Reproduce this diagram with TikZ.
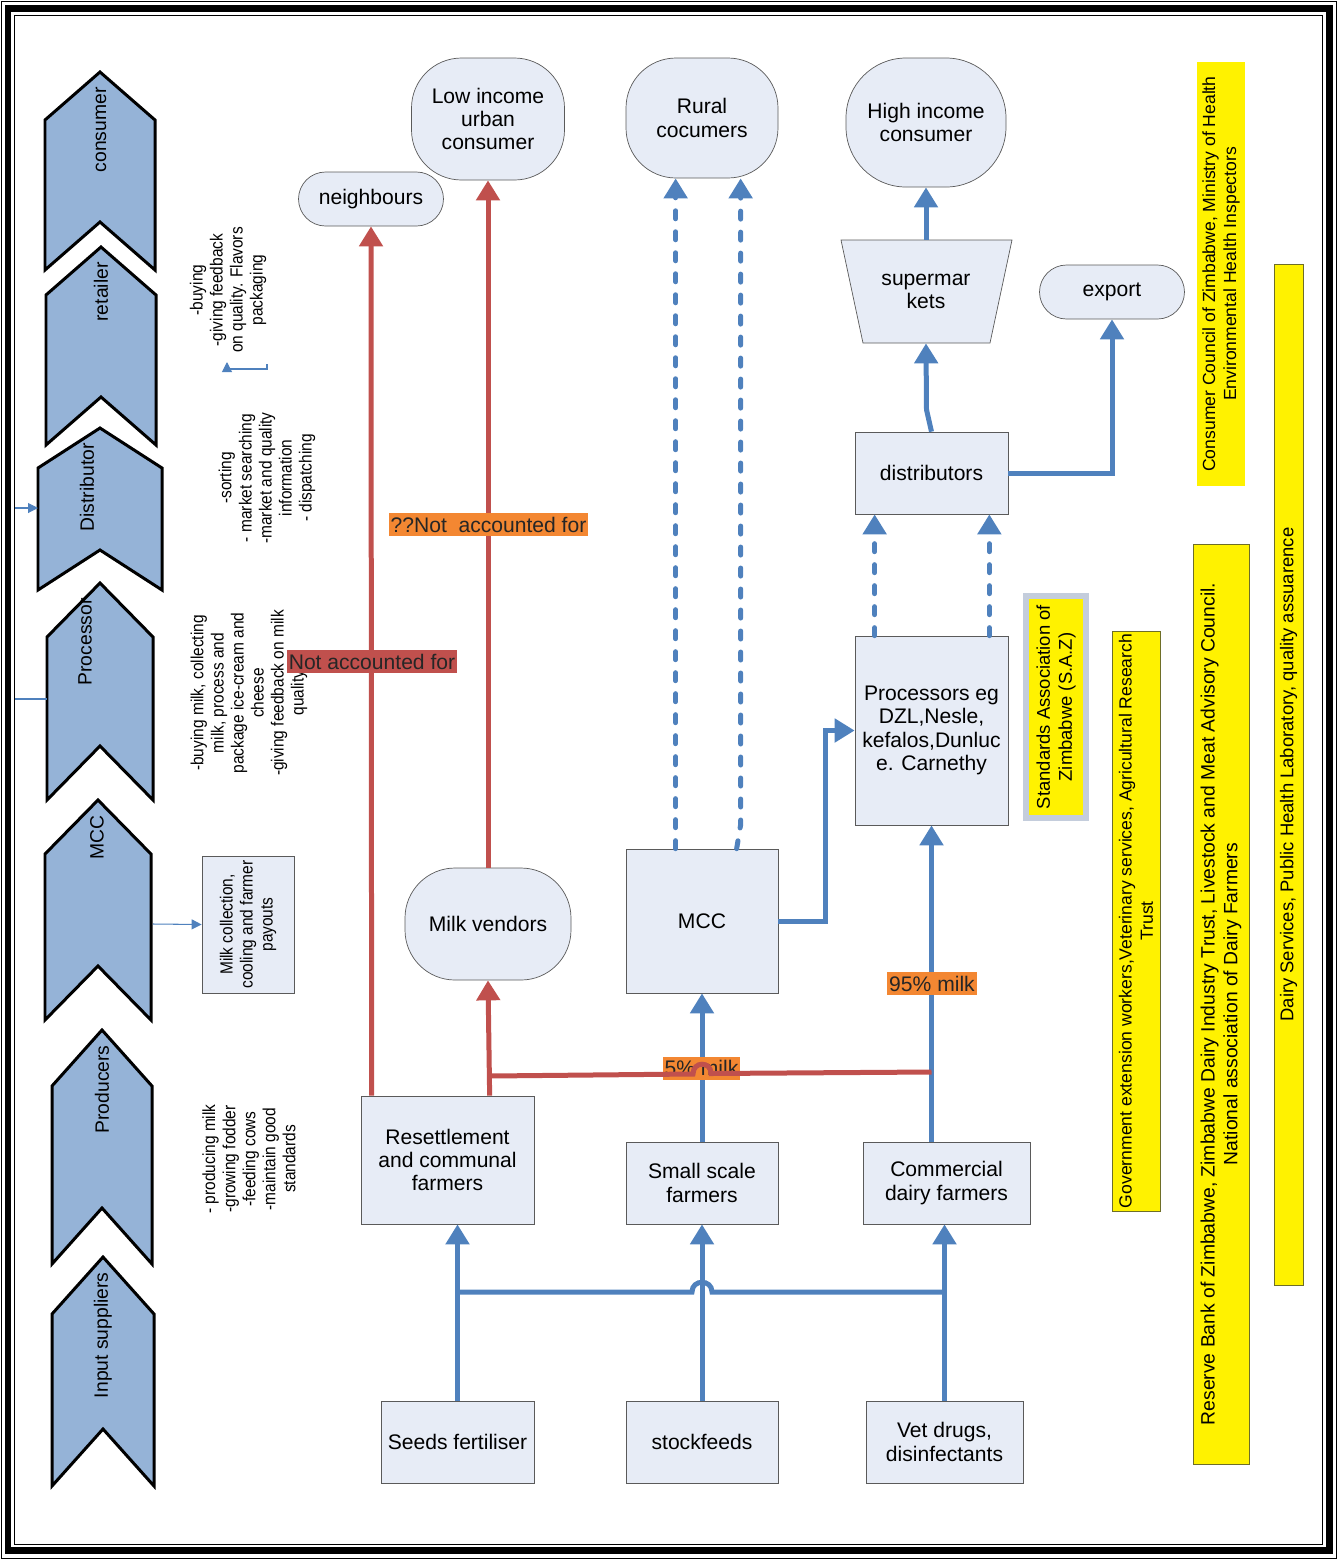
\documentclass[tikz,border=0pt]{standalone}
\usepackage{fontspec}
\setmainfont{Liberation Sans}
\newfontfamily\narrowfont[FakeStretch=0.88]{Liberation Sans}
\usetikzlibrary{shapes, arrows.meta, positioning, calc}

\definecolor{chevblue}{RGB}{149,179,215}
\definecolor{boxfill}{RGB}{231,236,246}
\definecolor{boxline}{RGB}{90,90,90}
\definecolor{flowblue}{RGB}{79,129,189}
\definecolor{flowred}{RGB}{192,80,77}
\definecolor{tagorange}{RGB}{243,135,50}
\definecolor{sazgray}{RGB}{196,205,220}
\definecolor{agencyline}{RGB}{110,110,40}

\tikzset{
  wh/.style 2 args={minimum width=#1*0.02cm, minimum height=#2*0.02cm},
  actor/.style={draw=boxline, fill=boxfill, align=center, inner sep=2pt, font=\fontsize{12}{13.2}\selectfont},
  market/.style={actor, rounded corners=1cm},
  pill/.style={actor, rounded rectangle},
  chev/.style={draw=black, line width=0.06cm, fill=chevblue, line join=miter},
  stage/.style={rotate=90, anchor=east, inner sep=0pt, font=\fontsize{11}{13}\selectfont},
  note/.style={rotate=90, align=center, inner sep=0pt, font=\narrowfont\fontsize{10}{11.4}\selectfont},
  agency/.style={rotate=90, fill=yellow, align=center, inner sep=1pt, font=\fontsize{10}{12}\selectfont},
  pipe/.style={draw=flowblue, line width=0.1cm},
  flow/.style={pipe, -{Triangle[width=0.46cm,length=0.4cm]}},
  feed/.style={flow, dash pattern=on 0.16cm off 0.26cm, line cap=round},
  leak/.style={flow, draw=flowred},
  thinflow/.style={draw=flowblue, line width=0.6pt, -{Triangle[width=0.2cm,length=0.2cm]}},
  tag/.style={fill=tagorange, inner sep=1pt, minimum height=0.46cm, text=black!85, font=\fontsize{12}{13.2}\selectfont},
}

\begin{document}
\begin{tikzpicture}[x=0.02cm, y=-0.02cm]
  \useasboundingbox (0,0) rectangle (1338,1560);
  \draw[line width=0.14cm] (8,8.5) rectangle (1329,1550.5);
  \draw[line width=0.5pt] (1.5,1.5) rectangle (1336.5,1558.5);
  \draw[line width=0.5pt] (14,15) rectangle (1322,1544);

  \foreach \cx/\ct/\cb/\hw/\th/\lx/\lab in {100/72/270/55/48/101/consumer, 101/247/445/55/48/101/retailer,
      100/428/590/62/40/87/Distributor, 100/583/800/53/54/85/Processor, 98/800/1020/53/54/97/MCC,
      102/1030/1264/50/56/102/Producers, 103/1257/1486/51/57/103/Input suppliers}{
    \draw[chev] (\cx-\hw,\ct+\th) -- (\cx,\ct) -- (\cx+\hw,\ct+\th) -- (\cx+\hw,\cb) -- (\cx,\cb-\th) -- (\cx-\hw,\cb) -- cycle;
    \node[stage] (stage-\ct) at (\lx,\ct+15) {\lab};
  }

  \node[note] (retnote) at (228,290) {-buying\\-giving feedback\\on quality. Flavors\\packaging};
  \node[note] (distnote) at (267,478) {-sorting\\- market searching\\-market and quality\\information\\- dispatching};
  \node[note] (procnote) at (249,693) {-buying milk, collecting\\milk, process and\\package ice-cream and\\cheese\\-giving feedback on milk\\quality};
  \node[note] (prodnote) at (249,1159) {- producing milk\\-growing fodder\\-feeding cows\\-maintain good\\standards};
  \node[actor, rotate=90, wh={137}{92}, font=\narrowfont\fontsize{10}{11.4}\selectfont] (mccbox) at (248,924.5) {Milk collection,\\cooling and farmer\\payouts};

  \coordinate (frameA) at (15,508);
  \coordinate (distL) at (38,508);
  \coordinate (frameB) at (15,699);
  \coordinate (procL) at (47,699);
  \coordinate (mccR) at (153,924);
  \coordinate (elbowA) at (267,364);
  \coordinate (elbowB) at (227,362);
  \draw[thinflow] (frameA) -- (distL);
  \draw[draw=flowblue, line width=0.6pt] (frameB) -- (procL);
  \draw[thinflow] (mccR) -- (mccbox.north);
  \draw[thinflow] (elbowA) -- ++(0,5) -| (elbowB);

  \node[market, wh={153}{122}] (lowinc) at (488,119) {Low income\\urban\\consumer};
  \node[pill, wh={152}{54}] (neigh) at (371,199) {neighbours};
  \node[market, wh={152}{120}] (rural) at (702,118) {Rural\\cocumers};
  \node[market, wh={160}{129}, rounded corners=1.2cm] (highinc) at (926,122.5) {High income\\consumer};
  \draw[draw=boxline, fill=boxfill] (841,240) -- (1012,240) -- (990,343) -- (863,343) -- cycle;
  \node[align=center, inner sep=0pt, wh={127}{103}, font=\fontsize{12}{13.2}\selectfont] (sup) at (926,291.5) {supermar\\kets};
  \node[pill, wh={152}{54}] (export) at (1112,292) {export};
  \node[actor, wh={153}{82}] (dist) at (931.5,473) {distributors};
  \node[actor, wh={153}{189}] (proc) at (931.5,730.5) {Processors eg\\DZL,Nesle,\\kefalos,Dunluc\\e. Carnethy};
  \node[market, wh={166}{112}] (vendors) at (488,924) {Milk vendors};
  \node[actor, wh={152}{144}] (mcc) at (702,921) {MCC};
  \node[actor, wh={173}{128}] (reset) at (447.5,1160) {Resettlement\\and communal\\farmers};
  \node[actor, wh={152}{82}] (small) at (702,1183) {Small scale\\farmers};
  \node[actor, wh={167}{82}] (comm) at (946.5,1183) {Commercial\\dairy farmers};
  \node[actor, wh={153}{82}] (seeds) at (457.5,1442) {Seeds fertiliser};
  \node[actor, wh={152}{82}] (feeds) at (702,1442) {stockfeeds};
  \node[actor, wh={157}{82}] (vet) at (944.5,1442) {Vet drugs,\\disinfectants};

  \node[agency, wh={424}{48}] (ccz) at (1221,274) {Consumer Council of Zimbabwe, Ministry of Health\\Environmental Health Inspectors};
  \node[agency, draw=sazgray, line width=0.12cm, wh={222}{60}, font=\fontsize{10.5}{12.5}\selectfont] (saz) at (1056,707) {Standards Association of\\Zimbabwe (S.A.Z)};
  \node[agency, draw=agencyline, wh={580}{48}] (govt) at (1136,921) {Government extension workers,Veterinary services, Agricultural Research\\Trust};
  \node[agency, draw=agencyline, wh={920}{56}, font=\fontsize{11}{13}\selectfont] (rbz) at (1221,1004) {Reserve Bank of Zimbabwe, Zimbabwe Dairy Industry Trust, Livestock and Meat Advisory Council.\\National association of Dairy Farmers};
  \node[agency, draw=agencyline, wh={1021}{29}, font=\fontsize{10.5}{12}\selectfont] (dairy) at (1288.5,774.5) {Dairy Services, Public Health Laboratory, quality assuarence};

  \coordinate (barL) at (457.5,1292);
  \coordinate (barR) at (944.5,1292);
  \draw[flow] (seeds.north) -- (seeds.north |- reset.south);
  \draw[flow] (feeds.north) -- (small.south);
  \draw[flow] (vet.north) -- (vet.north |- comm.south);
  \draw[pipe] (barL) -- (692,1292) .. controls (692,1279) and (712,1279) .. (712,1292) -- (barR);
  \draw[flow] (small.north) -- (mcc.south);
  \draw[flow] (proc.south |- comm.north) -- (proc.south);
  \draw[flow] (mcc.east) -- ++(47,0) |- (proc.west);
  \draw[feed] ($(proc.north west)+(20,0)$) -- ($(dist.south west)+(20,0)$);
  \draw[feed] ($(proc.north east)+(-19,0)$) -- ($(dist.south east)+(-19,0)$);
  \draw[flow] (dist.north) -- ++(-5,-22) -- (sup.north |- sup.south);
  \draw[flow] (sup.north) -- (highinc.south);
  \draw[flow] (dist.east) -| (export.south);
  \draw[feed] ($(mcc.north west)+(50,0)$) -- ($(rural.south west)+(50,0)$);
  \draw[feed] ($(mcc.north west)+(111,0)$) -- ++(4,-24) -- ($(rural.south west)+(115,0)$);

  \draw[leak] ($(reset.north west)+(11,0)$) -- (neigh.south);
  \draw[leak] ($(reset.north west)+(129,0)$) -- (vendors.south);
  \draw[leak] (vendors.north) -- (lowinc.south);

  \node[tag] (tagvend) at (488.5,524.5) {??Not\ \ accounted for};
  \node[tag, fill=flowred] (tagneigh) at (372,661.5) {Not accounted for};
  \node[tag] (tagfive) at (701.5,1068) {5\% milk};
  \node[tag] (tagninety) at (932,983.5) {95\% milk};

  \coordinate (mixR) at (931.5,1072);
  \coordinate (mixL) at (490,1076);
  \draw[draw=flowred, line width=0.1cm] (mixR) -- (711,1073.5) .. controls (711,1061) and (693,1061) .. (693,1074) -- (mixL);
\end{tikzpicture}
\end{document}
